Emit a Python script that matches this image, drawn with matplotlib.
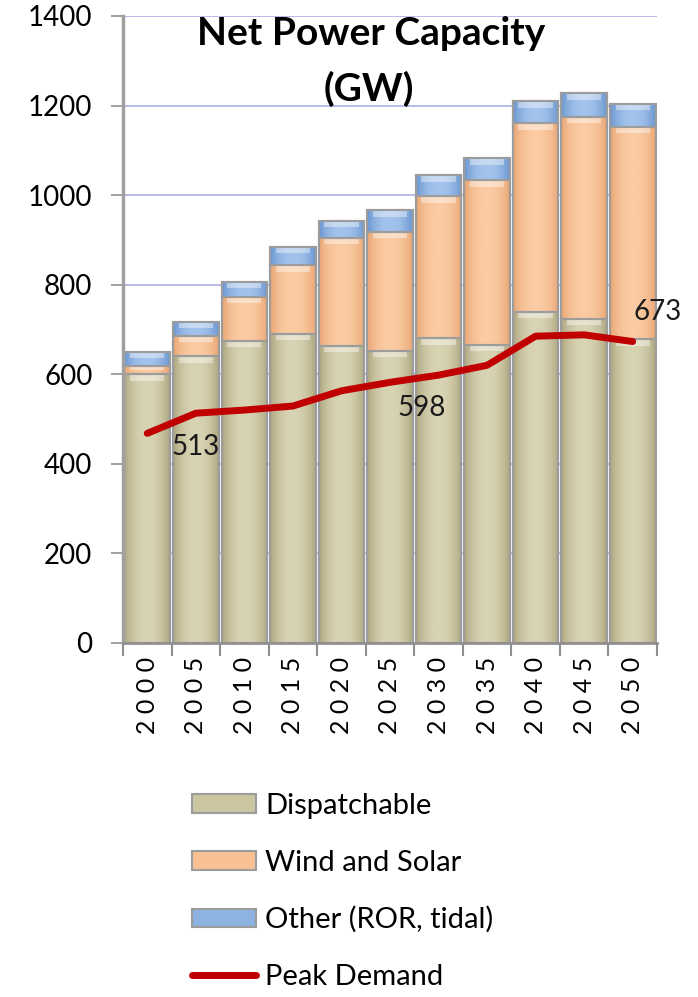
import numpy as np
import matplotlib
matplotlib.use('Agg')
import matplotlib.pyplot as plt
from matplotlib.colors import LinearSegmentedColormap

plt.rcParams['font.family'] = ['Lato', 'DejaVu Sans']

# data (GW)
years = ['2000', '2005', '2010', '2015', '2020', '2025', '2030', '2035', '2040', '2045', '2050']
dispatchable = [600, 640, 674, 690, 663, 652, 680, 665, 740, 723, 678]
wind_solar = [18, 45, 99, 153, 242, 266, 317, 368, 420, 452, 475]
other = [32, 32, 33, 42, 38, 48, 47, 49, 49, 52, 50]
peak_demand = [468, 513, 520, 529, 563, 582, 598, 620, 685, 688, 673]
labelled = [1, 6, 10]   # points with a value label

fig = plt.figure(figsize=(6.98, 9.97), dpi=100)
ax = fig.add_axes([0.1762, 0.3551, 0.765, 0.6289])

x = np.arange(len(years))
width = 0.94
series = [
    (dispatchable, 'Dispatchable', '#CBC5A1', '#D8D3B3', '#ADA680'),
    (wind_solar, 'Wind and Solar', '#F8C093', '#FBCBA3', '#E9A675'),
    (other, 'Other (ROR, tidal)', '#8DB3E2', '#A3C3EC', '#6A97CF'),
]

bottom = np.zeros(len(years))
handles = []
for vals, label, mid, light, dark in series:
    vals = np.array(vals, dtype=float)
    bars = ax.bar(x, vals, width, bottom=bottom, color=mid, edgecolor='#9C9C9C',
                  linewidth=1.5, label=label, zorder=2)
    handles.append(bars)
    # horizontal shading inside each bar
    cmap = LinearSegmentedColormap.from_list(label, [light, dark])
    grad = (np.abs(np.linspace(-1, 1, 64)) ** 2.2)[None, :]
    for rect in bars:
        x0, y0 = rect.get_x(), rect.get_y()
        w, h = rect.get_width(), rect.get_height()
        im = ax.imshow(grad, extent=[x0, x0 + w, y0, y0 + h], aspect='auto',
                       cmap=cmap, zorder=2.1, interpolation='bicubic')
        im.set_clip_path(rect)
        hh = min(14, h * 0.45)
        ax.bar(x0 + w / 2, hh, w * 0.75, bottom=y0 + h - hh, color='white',
               alpha=0.4, linewidth=0, zorder=2.2)
    ax.bar(x, vals, width, bottom=bottom, fill=False, edgecolor='#9C9C9C',
           linewidth=1.5, zorder=2.3)
    bottom = bottom + vals

line, = ax.plot(x, peak_demand, color='#C00000', lw=5, label='Peak Demand',
                solid_capstyle='round', solid_joinstyle='round', zorder=3)
handles.append(line)

offsets = {1: (0, -34), 6: (-17, -33), 10: (25, 30)}
for i in labelled:
    ax.annotate(str(peak_demand[i]), (x[i], peak_demand[i]), xytext=offsets[i],
                textcoords='offset pixels', ha='center', va='center',
                fontsize=20, color='#1a1a1a', zorder=4, annotation_clip=False)

ax.set_xlim(-0.5, len(years) - 0.5)
ax.set_ylim(0, 1400)
ax.set_yticks(range(0, 1401, 200))
ax.set_xticks(x)
ax.set_xticklabels([' '.join(y) for y in years], rotation=90, fontsize=18)
ax.set_xticks(np.arange(-0.5, len(years), 1), minor=True)
ax.tick_params(axis='x', which='major', length=0, pad=10)
ax.tick_params(axis='x', which='minor', length=9, width=1.5, color='#909090')
ax.tick_params(axis='y', labelsize=20, length=9, width=1.2, color='#909090', pad=13)

ax.yaxis.grid(True, color='#A9B0E4', lw=1.2)
ax.set_axisbelow(True)
for s in ['top', 'right']:
    ax.spines[s].set_visible(False)
ax.spines['left'].set_color('#A0A0A0')
ax.spines['left'].set_linewidth(2.5)
ax.spines['bottom'].set_color('#909090')
ax.spines['bottom'].set_linewidth(2)

fig.text(0.532, 1 - 45 / 997, 'Net Power Capacity', ha='center', va='baseline',
         fontsize=28, fontweight='bold')
fig.text(0.528, 1 - 101 / 997, '(GW)', ha='center', va='baseline',
         fontsize=28, fontweight='bold')

fig.legend(handles, [h.get_label() for h in handles], loc='upper left',
           bbox_to_anchor=(192 / 698, 1 - 793 / 997), frameon=False, fontsize=21,
           borderpad=0, borderaxespad=0, handlelength=2.2, handleheight=0.6,
           handletextpad=0.3, labelspacing=1.05)

fig.savefig('out.png', dpi=100)
